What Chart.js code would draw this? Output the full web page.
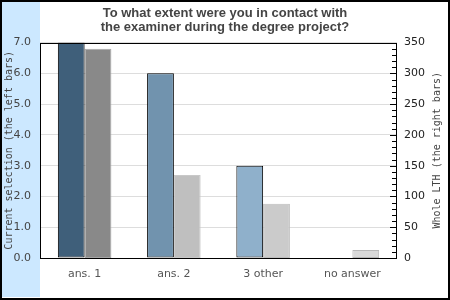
<!DOCTYPE html>
<html>
<head>
<meta charset="utf-8">
<script src="https://cdn.jsdelivr.net/npm/chart.js@4/dist/chart.umd.min.js"></script>
<style>
html,body{margin:0;padding:0;background:#fff;}
#wrap{width:450px;height:300px;position:relative;}
</style>
</head>
<body>
<div id="wrap"><canvas id="c" width="450" height="300"></canvas></div>
<script>
const titleLines = ["To what extent were you in contact with", "the examiner during the degree project?"];
const categories = ["ans. 1", "ans. 2", "3 other", "no answer"];
const currentSelection = [7, 6, 3, 0];
const wholeLTH = [340, 135, 88, 13];
const leftTicks = [0, 1, 2, 3, 4, 5, 6, 7];
const rightTicks = [0, 50, 100, 150, 200, 250, 300, 350];
const leftTitle = "Current selection (the left bars)";
const rightTitle = "Whole LTH (the right bars)";
const leftColors = ["#3f5f7a", "#7193ae", "#8fb0cb", "#a9c4da"];
const rightColors = ["#898989", "#bfbfbf", "#cbcbcb", "#d9d9d9"];
const rightBorders = ["#a6a6a6", "#c8c8c8", "#bdbdbd", "#b8b8b8"];

const framePlugin = {
  id: 'frame',
  beforeDraw(chart) {
    const ctx = chart.ctx;
    ctx.save();
    ctx.fillStyle = '#fff';
    ctx.fillRect(0, 0, 450, 300);
    ctx.fillStyle = '#cce8ff';
    ctx.fillRect(2, 2, 38, 295);
    ctx.restore();
  },
  afterDraw(chart) {
    const ctx = chart.ctx;
    const a = chart.chartArea;
    const y2 = chart.scales.y2;
    ctx.save();
    ctx.strokeStyle = '#000';
    ctx.lineWidth = 1;
    ctx.strokeRect(Math.round(a.left) + 0.5, Math.round(a.top) + 0.5, Math.round(a.right - a.left) - 1, Math.round(a.bottom - a.top));
    for (let v = 0; v <= 350; v += 10) {
      const py = Math.round(y2.getPixelForValue(v)) + 0.5;
      const len = (v % 50 === 0) ? 6 : 4;
      ctx.beginPath();
      ctx.moveTo(a.right - 1 - len, py);
      ctx.lineTo(a.right - 1, py);
      ctx.stroke();
    }
    ctx.fillStyle = '#444';
    ctx.font = '10px "DejaVu Sans Mono"';
    ctx.textAlign = 'center';
    ctx.textBaseline = 'middle';
    const cy = (a.top + a.bottom) / 2;
    ctx.save();
    ctx.translate(9, cy);
    ctx.rotate(-Math.PI / 2);
    ctx.fillText(leftTitle, 0, 0);
    ctx.restore();
    ctx.save();
    ctx.translate(437, cy);
    ctx.rotate(-Math.PI / 2);
    ctx.fillText(rightTitle, 0, 0);
    ctx.restore();
    ctx.strokeStyle = '#000';
    ctx.lineWidth = 2;
    ctx.strokeRect(1, 1, 448, 298);
    ctx.restore();
  }
};

const bandPlugin = {
  id: 'bands',
  beforeDraw(chart) {
    const ctx = chart.ctx;
    const a = chart.chartArea;
    const y = chart.scales.y;
    if (!y) return;
    ctx.save();
    ctx.fillStyle = '#f2f2f2';
    for (let i = 1; i < 7; i += 2) {
      const top = y.getPixelForValue(i + 1);
      const bot = y.getPixelForValue(i);
      ctx.fillRect(a.left, top, a.right - a.left, bot - top);
    }
    ctx.restore();
  }
};

new Chart(document.getElementById('c'), {
  type: 'bar',
  data: {
    labels: categories,
    datasets: [
      {
        label: leftTitle,
        data: currentSelection,
        yAxisID: 'y',
        backgroundColor: leftColors,
        borderColor: '#000',
        borderWidth: 1,
        borderSkipped: false
      },
      {
        label: rightTitle,
        data: wholeLTH,
        yAxisID: 'y2',
        backgroundColor: rightColors,
        borderColor: rightBorders,
        borderWidth: 1,
        borderSkipped: false
      }
    ]
  },
  options: {
    responsive: false,
    animation: false,
    devicePixelRatio: 1,
    categoryPercentage: 0.6,
    barPercentage: 1.0,
    layout: { padding: 0 },
    plugins: {
      legend: { display: false },
      tooltip: { enabled: false },
      title: {
        display: true,
        text: titleLines,
        color: '#444',
        font: { family: '"Liberation Sans", Arial, sans-serif', size: 13, weight: 'bold', lineHeight: 1.1 },
        padding: { top: 6, bottom: 8 }
      }
    },
    scales: {
      x: {
        grid: { display: false, drawTicks: false },
        border: { display: false },
        ticks: { color: '#555', font: { family: '"DejaVu Sans"', size: 11 }, padding: 10, maxRotation: 0 },
        afterFit(s) { s.height = 42; }
      },
      y: {
        position: 'left',
        min: 0, max: 7,
        afterBuildTicks(s) { s.ticks = leftTicks.map(v => ({ value: v })); },
        grid: { color: '#dddddd', drawTicks: false, lineWidth: 1 },
        border: { display: false },
        ticks: { color: '#444', font: { family: '"DejaVu Sans"', size: 11 }, padding: 9, callback: v => Number(v).toFixed(1) },
        afterFit(s) { s.width = 40; }
      },
      y2: {
        position: 'right',
        min: 0, max: 350,
        afterBuildTicks(s) { s.ticks = rightTicks.map(v => ({ value: v })); },
        grid: { display: false, drawTicks: false },
        border: { display: false },
        ticks: { color: '#222', font: { family: '"DejaVu Sans"', size: 11 }, padding: 7 },
        afterFit(s) { s.width = 53; }
      }
    }
  },
  plugins: [bandPlugin, framePlugin]
});
</script>
</body>
</html>
